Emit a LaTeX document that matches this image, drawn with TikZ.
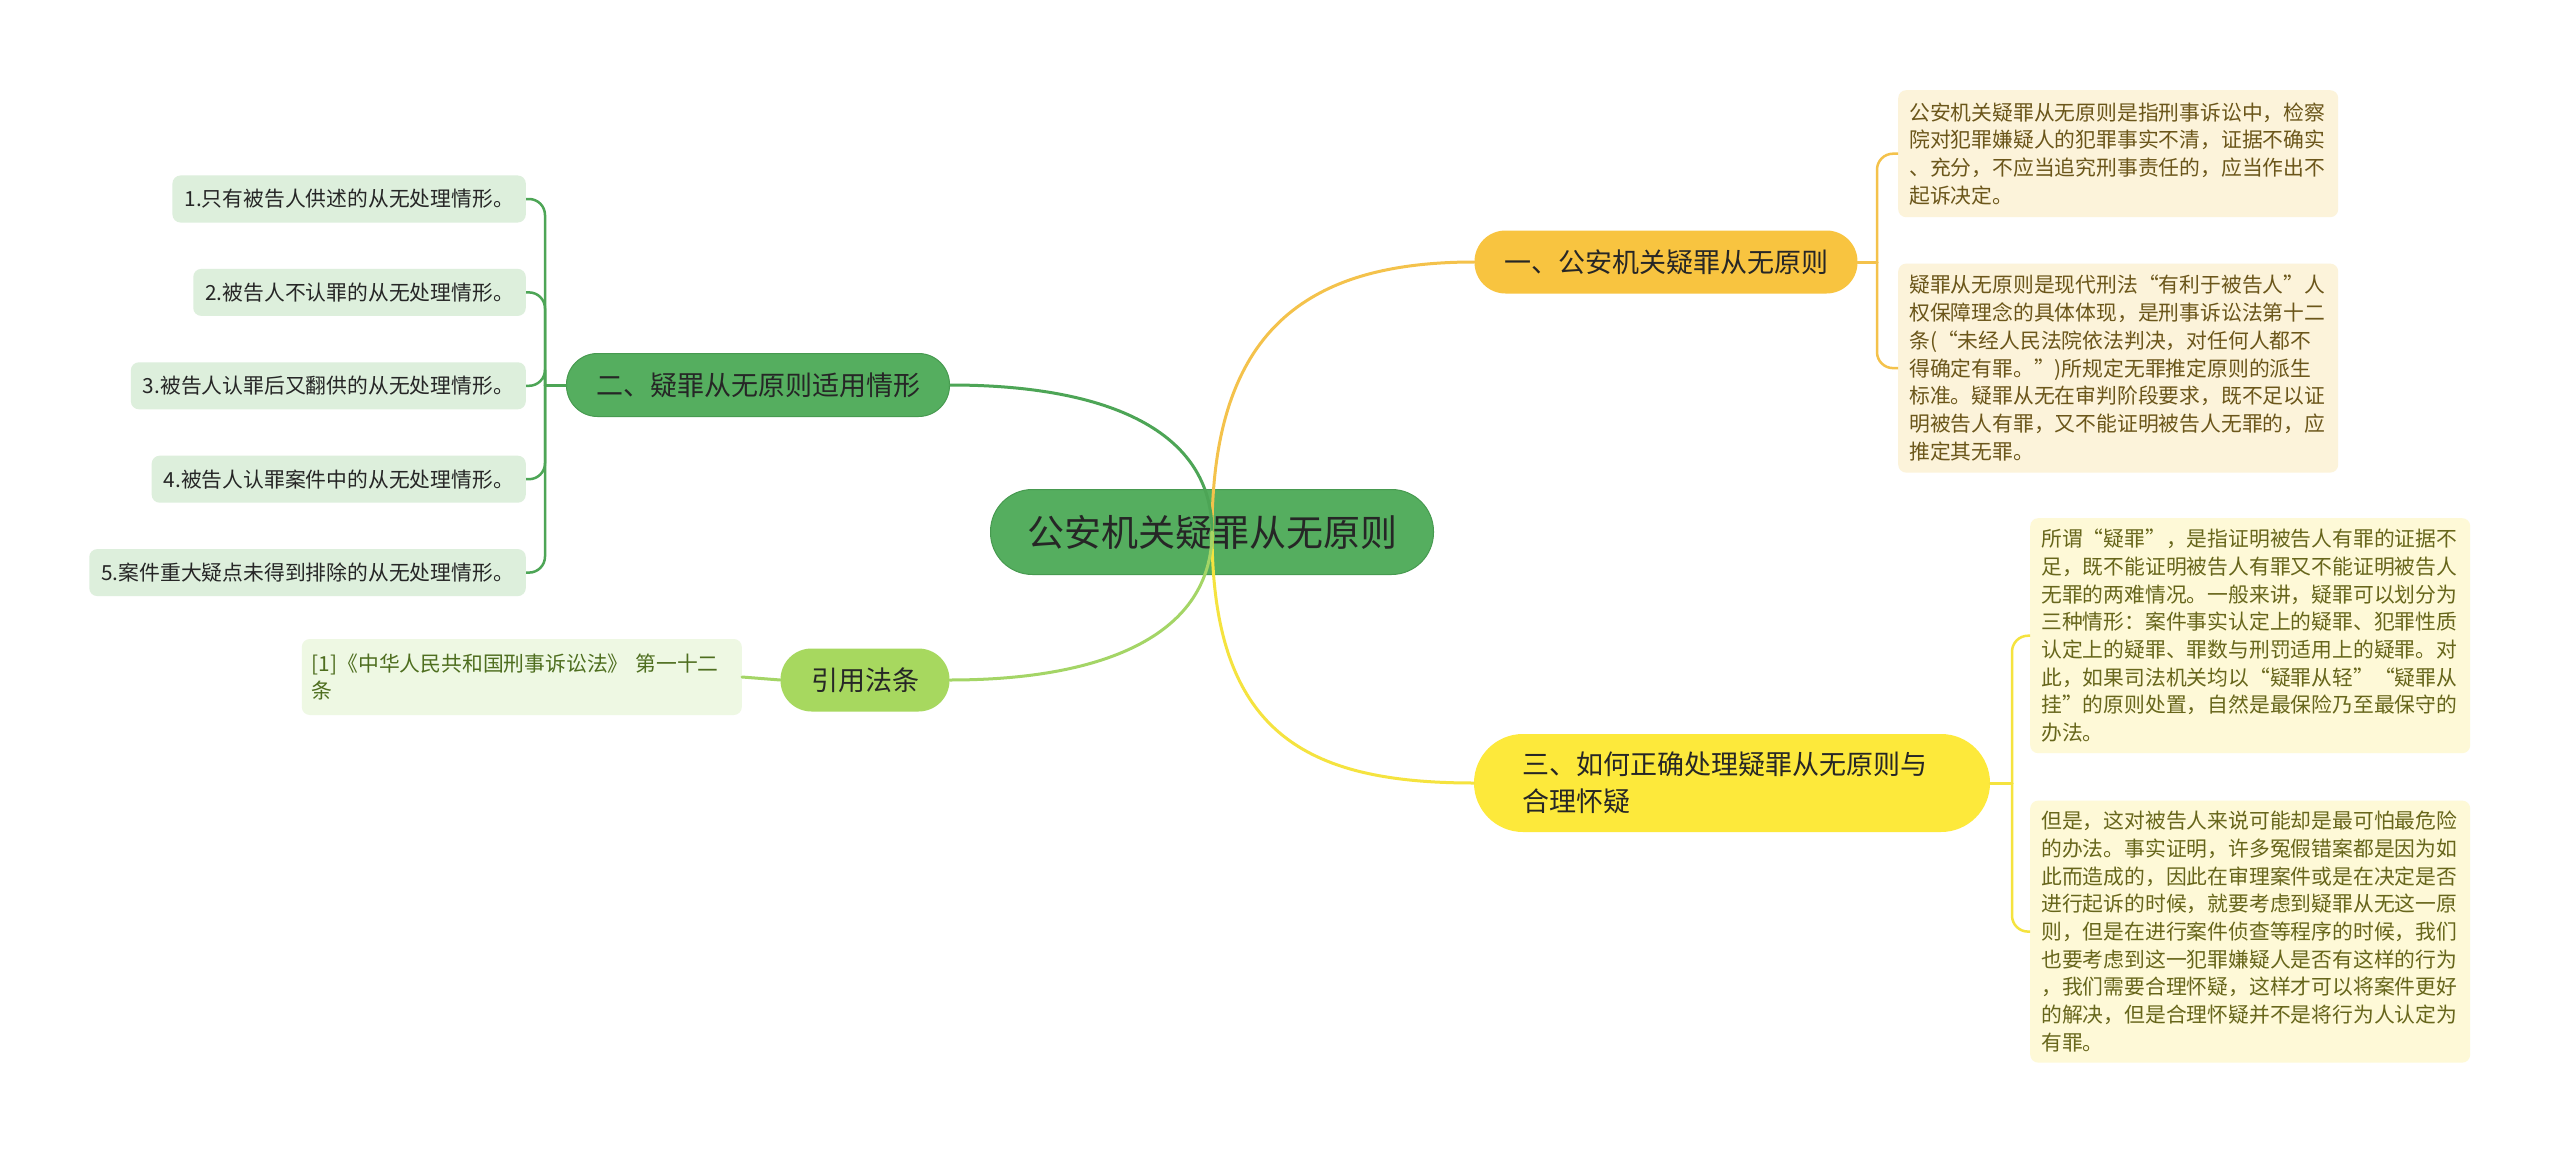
\documentclass[tikz,border=0pt]{standalone}
\usepackage{fontspec}
\setmainfont{Noto Sans CJK SC}
\usetikzlibrary{positioning}

\definecolor{rootfill}{HTML}{55AE5F}
\definecolor{rootdraw}{HTML}{479A50}
\definecolor{onefill}{HTML}{F8C440}
\definecolor{threefill}{HTML}{FDE93B}
\definecolor{fourfill}{HTML}{A7D85F}
\definecolor{oneline}{HTML}{F4C24B}
\definecolor{twoline}{HTML}{4DA556}
\definecolor{threeline}{HTML}{F5E33F}
\definecolor{fourline}{HTML}{A4D566}
\definecolor{oneleaf}{HTML}{FCF3DA}
\definecolor{twoleaf}{HTML}{DDEFDC}
\definecolor{threeleaf}{HTML}{FEF9D7}
\definecolor{fourleaf}{HTML}{EEF8E3}
\definecolor{onetext}{HTML}{6B561A}
\definecolor{threetext}{HTML}{67661B}
\definecolor{fourtext}{HTML}{4E6E1F}
\definecolor{darktext}{HTML}{262626}

\begin{document}
\begin{tikzpicture}[x=1pt, y=-1pt,
  rootbox/.style={rectangle, rounded corners=42pt, fill=rootfill, draw=rootdraw, line width=1pt, minimum width=443pt, minimum height=85pt, text=darktext, font=\fontsize{37}{44}\selectfont},
  topic/.style={rectangle, rounded corners=31pt, minimum height=63pt, minimum width=383pt, inner xsep=24pt, text=darktext, font=\fontsize{27}{37}\selectfont},
  leafbox/.style={rectangle, rounded corners=8pt, align=left, inner xsep=11pt, font=\fontsize{20.8}{27.7}\selectfont},
  leafg/.style={leafbox, fill=twoleaf, text=darktext, minimum height=47pt, inner xsep=12pt, anchor=east},
  link/.style={line width=3pt, line cap=round},
  bracket/.style={line width=2.5pt, rounded corners=16pt}
]
  \useasboundingbox[fill=white] (0,0) rectangle (2560,1153);

  % centre and main topics
  \node[rootbox] (root) at (1212,532) {公安机关疑罪从无原则};
  \node[topic, fill=onefill] (one) at (1666,262) {一、公安机关疑罪从无原则};
  \node[topic, fill=rootfill, draw=rootdraw, line width=1pt] (two) at (758,385) {二、疑罪从无原则适用情形};
  \node[topic, fill=threefill, rounded corners=49pt, minimum height=98pt, minimum width=516pt, text width=420pt, align=left] (three) at (1732,783) {三、如何正确处理疑罪从无原则与\\合理怀疑};
  \node[topic, fill=fourfill, minimum width=169pt] (four) at (865,680) {引用法条};

  % leaves of topic one
  \node[leafbox, fill=oneleaf, text=onetext, text width=418pt, minimum height=127pt, anchor=north west] (o1) at (1898,90) {公安机关疑罪从无原则是指刑事诉讼中，检察\\院对犯罪嫌疑人的犯罪事实不清，证据不确实\\、充分，不应当追究刑事责任的，应当作出不\\起诉决定。};
  \node[leafbox, fill=oneleaf, text=onetext, text width=418pt, minimum height=209pt, below=46pt of o1.south west, anchor=north west] (o2) {疑罪从无原则是现代刑法“有利于被告人”人\\权保障理念的具体体现，是刑事诉讼法第十二\\条(“未经人民法院依法判决，对任何人都不\\得确定有罪。”)所规定无罪推定原则的派生\\标准。疑罪从无在审判阶段要求，既不足以证\\明被告人有罪，又不能证明被告人无罪的，应\\推定其无罪。};

  % leaves of topic two
  \node[leafg] (t1) at (526,199) {1.只有被告人供述的从无处理情形。};
  \node[leafg, below left=46pt and 0pt of t1.south east] (t2) {2.被告人不认罪的从无处理情形。};
  \node[leafg, below left=46pt and 0pt of t2.south east] (t3) {3.被告人认罪后又翻供的从无处理情形。};
  \node[leafg, below left=46pt and 0pt of t3.south east] (t4) {4.被告人认罪案件中的从无处理情形。};
  \node[leafg, below left=46pt and 0pt of t4.south east] (t5) {5.案件重大疑点未得到排除的从无处理情形。};

  % leaves of topic three
  \node[leafbox, fill=threeleaf, text=threetext, text width=418pt, minimum height=235pt, anchor=north west] (h1) at (2030,518) {所谓“疑罪”，是指证明被告人有罪的证据不\\足，既不能证明被告人有罪又不能证明被告人\\无罪的两难情况。一般来讲，疑罪可以划分为\\三种情形：案件事实认定上的疑罪、犯罪性质\\认定上的疑罪、罪数与刑罚适用上的疑罪。对\\此，如果司法机关均以“疑罪从轻”“疑罪从\\挂”的原则处置，自然是最保险乃至最保守的\\办法。};
  \node[leafbox, fill=threeleaf, text=threetext, text width=418pt, minimum height=262pt, below=47pt of h1.south west, anchor=north west] (h2) {但是，这对被告人来说可能却是最可怕最危险\\的办法。事实证明，许多冤假错案都是因为如\\此而造成的，因此在审理案件或是在决定是否\\进行起诉的时候，就要考虑到疑罪从无这一原\\则，但是在进行案件侦查等程序的时候，我们\\也要考虑到这一犯罪嫌疑人是否有这样的行为\\，我们需要合理怀疑，这样才可以将案件更好\\的解决，但是合理怀疑并不是将行为人认定为\\有罪。};

  % leaf of topic four
  \node[leafbox, fill=fourleaf, text=fourtext, text width=420pt, inner xsep=10pt, minimum height=76pt, anchor=east] (f1) at (742,677) {[1]《中华人民共和国刑事诉讼法》 第一十二\\条};

  % main branches
  \draw[link, oneline] (root.center) .. controls +(0,-200) and +(-170,0) .. (one.west);
  \draw[link, twoline] (root.center) .. controls +(0,-100) and +(160,0) .. (two.east);
  \draw[link, threeline] (root.center) .. controls +(0,200) and +(-170,0) .. (three.west);
  \draw[link, fourline] (root.center) .. controls +(0,100) and +(160,0) .. (four.east);

  % brackets to the leaves
  \coordinate (jo) at (1877,262);
  \draw[link, oneline] (one.east) -- (jo);
  \draw[bracket, oneline] (jo) |- (o1.west);
  \draw[bracket, oneline] (jo) |- (o2.west);

  \coordinate (jt) at (545,385);
  \draw[link, twoline] (two.west) -- (jt);
  \foreach \n in {t1,t2,t3,t4,t5}
    \draw[bracket, twoline] (jt) |- (\n.east);

  \coordinate (jh) at (2012,783);
  \draw[link, threeline] (three.east) -- (jh);
  \draw[bracket, threeline] (jh) |- (h1.west);
  \draw[bracket, threeline] (jh) |- (h2.west);

  \draw[link, fourline] (four.west) -- (f1.east);
\end{tikzpicture}
\end{document}
